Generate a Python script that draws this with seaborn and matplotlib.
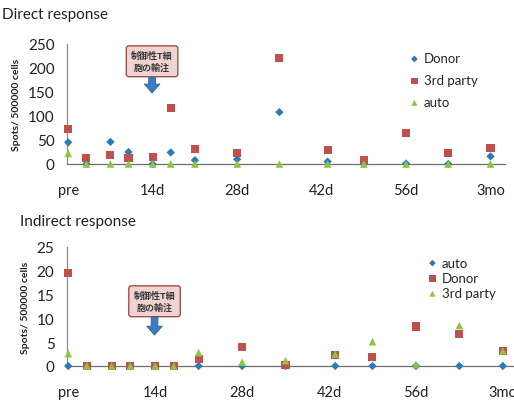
import matplotlib
matplotlib.use("Agg")
import matplotlib.pyplot as plt
import seaborn as sns
import pandas as pd

# ── Data ──────────────────────────────────────────────────────────────────────
days = [0, 3, 7, 10, 14, 17, 21, 28, 35, 43, 49, 56, 63, 70]
tick_days = [0, 14, 28, 42, 56, 70]
tick_labels = ["pre", "14d", "28d", "42d", "56d", "3mo"]

# Direct response
direct_donor = [45, 0, 46, 25, 0, 24, 8, 10, 108, 5, 0, 1, 0, 16]
direct_third = [72, 13, 18, 13, 15, 117, 32, 22, 220, 30, 9, 65, 23, 33]
direct_auto = [22, 0, 0, 0, 0, 0, 0, 0, 0, 0, 0, 0, 0, 0]

# Indirect response
indirect_auto = [0, 0, 0, 0, 0, 0, 0, 0, 0, 0, 0, 0, 0, 0]
indirect_donor = [19.6, 0, 0, 0, 0, 0, 1.5, 3.9, 0.2, 2.3, 1.9, 8.3, 6.7, 3.1]
indirect_third = [2.6, 0, 0, 0, 0, 0, 2.8, 0.8, 1.1, 2.5, 5.1, 0.3, 8.5, 3.2]

BLUE, RED, GREEN = "#2B7BBA", "#C0504D", "#8CC63F"
MARK = {"diamond": ("D", 18), "square": ("s", 34), "triangle": ("^", 30)}

sns.set_theme(style="white")
plt.rcParams["font.family"] = ["Lato", "DejaVu Sans"]
CJK = ["Noto Sans CJK JP", "DejaVu Sans"]

fig = plt.figure(figsize=(5.14, 4.02), dpi=100)
fig.patch.set_facecolor("white")


def draw_panel(ax, series, ymax, ystep, xmax, note_y, arrow_y, leg_anchor, leg_space):
    for label, vals, color, shape in series:
        df = pd.DataFrame({"day": days, "val": vals})
        m, s = MARK[shape]
        sns.scatterplot(data=df, x="day", y="val", marker=m, s=s, color=color,
                        edgecolor="none", linewidth=0, label=label,
                        clip_on=False, zorder=3, ax=ax)
    ax.set_xlim(-0.2, xmax)
    ax.set_ylim(0, ymax)
    ax.set_yticks(range(0, ymax + 1, ystep))
    ax.set_xticks(range(0, 71, 7))
    ax.set_xticklabels([tick_labels[tick_days.index(d)] if d in tick_days else ""
                        for d in range(0, 71, 7)])
    ax.set_xlabel("")
    ax.set_ylabel("Spots/ 500000 cells", fontsize=7.5, fontweight="bold",
                  color="#222222", labelpad=5)
    for side in ["top", "right"]:
        ax.spines[side].set_visible(False)
    ax.spines["left"].set_color("#8a8a8a")
    ax.spines["bottom"].set_color("#6f6f6f")
    ax.spines["left"].set_linewidth(0.9)
    ax.spines["bottom"].set_linewidth(0.9)
    ax.tick_params(axis="x", direction="inout", length=6, width=0.8,
                   colors="#6f6f6f", labelcolor="#222222", labelsize=10.5, pad=11)
    ax.tick_params(axis="y", direction="inout", length=6, width=0.8,
                   colors="#8a8a8a", labelcolor="#222222", labelsize=11, pad=6)
    ax.set_facecolor("white")

    # annotation box + arrow
    ax.text(13.9, note_y, "制御性T細\n胞の輸注", ha="center", va="center",
            fontsize=6.5, fontweight="bold", color="#3a3a3a", family=CJK,
            linespacing=1.35, zorder=5,
            bbox=dict(boxstyle="round,pad=0.55,rounding_size=0.3",
                      fc="#EFD3D1", ec="#9B5250", lw=1.0))
    ax.annotate("", xy=(13.9, arrow_y[1]), xytext=(13.9, arrow_y[0]),
                arrowprops=dict(arrowstyle="simple,head_width=1.4,head_length=0.8,tail_width=0.6",
                                mutation_scale=8, shrinkA=0, shrinkB=0,
                                fc="#3C7EC4", ec="#2A5F99", lw=0.6), zorder=5)

    ax.legend(loc="upper left", bbox_to_anchor=leg_anchor, frameon=False,
              fontsize=9.5, handletextpad=0.1, labelspacing=leg_space,
              borderpad=0, handlelength=1.2, markerscale=0.8)


ax1 = fig.add_axes([67 / 514, 1 - 165 / 402, 438 / 514, 120 / 402])
draw_panel(ax1,
           [("Donor", direct_donor, BLUE, "diamond"),
            ("3rd party", direct_third, RED, "square"),
            ("auto", direct_auto, GREEN, "triangle")],
           250, 50, 72.4, 214, (180, 148), (0.76, 0.985), 0.75)

ax2 = fig.add_axes([67 / 514, 1 - 367 / 402, 447 / 514, 119 / 402])
draw_panel(ax2,
           [("auto", indirect_auto, BLUE, "diamond"),
            ("Donor", indirect_donor, RED, "square"),
            ("3rd party", indirect_third, GREEN, "triangle")],
           25, 5, 71.8, 13.6, (10.3, 6.5), (0.785, 0.975), 0.25)

fig.text(2 / 514, 1 - 15 / 402, "Direct response", fontsize=11, va="center",
         color="#222222")
fig.text(20 / 514, 1 - 222 / 402, "Indirect response", fontsize=11, va="center",
         color="#222222")

fig.savefig("out.png", dpi=100, facecolor="white")
